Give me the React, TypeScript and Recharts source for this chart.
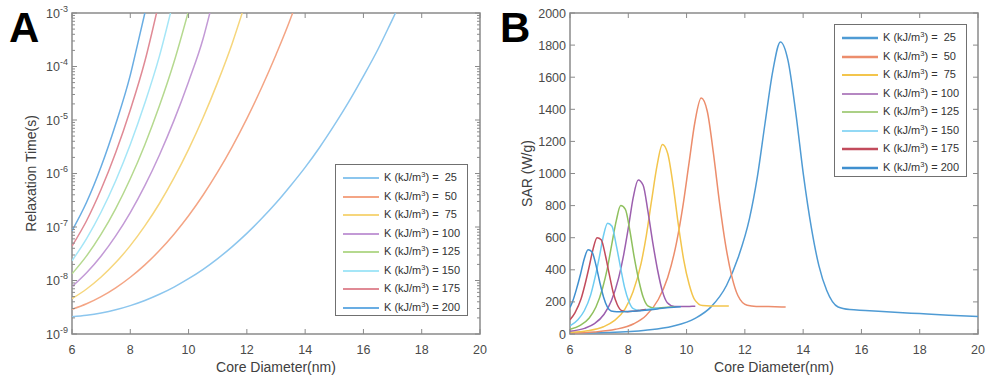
import { LineChart, Line, XAxis, YAxis, Legend, ReferenceArea } from 'recharts';

const kValues = [25, 50, 75, 100, 125, 150, 175, 200];
const diameterTicks = [6, 8, 10, 12, 14, 16, 18, 20];
const tauDecades = [1e-9, 1e-8, 1e-7, 1e-6, 1e-5, 1e-4, 1e-3];
const sarTicks = [0, 200, 400, 600, 800, 1000, 1200, 1400, 1600, 1800, 2000];

// [core diameter (nm), relaxation time (s)]
const tau25 = [[6, 2.1e-9], [6.5, 2.24e-9], [7, 2.47e-9], [7.5, 2.83e-9], [8, 3.39e-9], [8.5, 4.23e-9], [9, 5.52e-9], [9.5, 7.53e-9], [10, 1.08e-8], [10.5, 1.62e-8], [11, 2.57e-8], [11.5, 4.3e-8], [12, 7.6e-8], [12.5, 1.42e-7], [13, 2.8e-7], [13.5, 5.9e-7], [14, 1.3e-6], [14.5, 3.1e-6], [15, 8.0e-6], [15.5, 2.2e-5], [16, 6.6e-5], [16.5, 2.1e-4], [17, 7.7e-4], [17.1, 1e-3]];
const tau50 = [[6, 2.89e-9], [6.5, 3.67e-9], [7, 4.99e-9], [7.5, 7.29e-9], [8, 1.15e-8], [8.5, 1.96e-8], [9, 3.63e-8], [9.5, 7.34e-8], [10, 1.62e-7], [10.5, 3.96e-7], [11, 1.07e-6], [11.5, 3.19e-6], [12, 1.06e-5], [12.5, 3.96e-5], [13, 1.66e-4], [13.5, 7.86e-4], [13.57, 1e-3]];
const tau75 = [[6, 4.57e-9], [6.5, 6.94e-9], [7, 1.16e-8], [7.5, 2.16e-8], [8, 4.49e-8], [8.5, 1.05e-7], [9, 2.75e-7], [9.5, 8.25e-7], [10, 2.83e-6], [10.5, 1.11e-5], [11, 5.1e-5], [11.5, 2.73e-4], [11.84, 1e-3]];
const tau100 = [[6, 7.66e-9], [6.5, 1.39e-8], [7, 2.87e-8], [7.5, 6.81e-8], [8, 1.86e-7], [8.5, 5.92e-7], [9, 2.22e-6], [9.5, 9.83e-6], [10, 5.21e-5], [10.5, 3.33e-4], [10.73, 1e-3]];
const tau125 = [[6, 1.33e-8], [6.5, 2.88e-8], [7, 7.34e-8], [7.5, 2.21e-7], [8, 7.96e-7], [8.5, 3.46e-6], [9, 1.84e-5], [9.5, 1.21e-4], [9.98, 1e-3]];
const tau150 = [[6, 2.34e-8], [6.5, 6.09e-8], [7, 1.91e-7], [7.5, 7.34e-7], [8, 3.48e-6], [8.5, 2.07e-5], [9, 1.56e-4], [9.38, 1e-3]];
const tau175 = [[6, 4.4e-8], [6.5, 1.31e-7], [7, 5.06e-7], [7.5, 2.47e-6], [8, 1.54e-5], [8.5, 1.25e-4], [8.9, 1e-3]];
const tau200 = [[6, 8.5e-8], [6.5, 2.9e-7], [7, 1.35e-6], [7.5, 8.4e-6], [8, 6.9e-5], [8.25, 2.6e-4], [8.5, 1e-3]];

// [core diameter (nm), SAR (W/g)]
const sar25 = [[6, 5], [7.27, 9], [8.59, 23], [9.52, 48], [10.31, 99], [10.84, 169], [11.37, 302], [11.77, 476], [12.16, 720], [12.43, 980], [12.69, 1310], [12.96, 1640], [13.22, 1820], [13.48, 1705], [13.75, 1375], [14.01, 991], [14.28, 664], [14.54, 426], [14.81, 271], [15.2, 168], [15.6, 152], [16.13, 147], [17, 137], [18, 127], [19, 117], [20, 109]];
const sar50 = [[6, 6], [6.83, 13], [7.56, 29], [8.19, 64], [8.61, 115], [9.03, 215], [9.35, 350], [9.66, 574], [9.87, 792], [10.08, 1060], [10.29, 1324], [10.5, 1470], [10.71, 1388], [10.92, 1128], [11.13, 819], [11.34, 554], [11.55, 361], [11.76, 240], [12.08, 179], [12.39, 172], [12.81, 171], [13.4, 168]];
const sar75 = [[6, 10], [6.6, 20], [7.15, 45], [7.52, 83], [7.89, 157], [8.16, 262], [8.44, 440], [8.62, 615], [8.8, 832], [8.99, 1052], [9.17, 1180], [9.35, 1126], [9.54, 925], [9.72, 678], [9.9, 464], [10.09, 308], [10.27, 216], [10.55, 177], [10.82, 175], [11.19, 175], [11.45, 175]];
const sar100 = [[6, 17], [6.5, 35], [6.84, 64], [7.17, 123], [7.42, 207], [7.67, 350], [7.84, 492], [8.01, 670], [8.17, 851], [8.34, 960], [8.51, 927], [8.67, 769], [8.84, 570], [9.01, 394], [9.17, 267], [9.34, 195], [9.59, 171], [9.84, 171], [10.1, 172], [10.3, 173]];
const sar125 = [[6, 29], [6.35, 54], [6.66, 100], [6.89, 168], [7.12, 287], [7.28, 407], [7.43, 555], [7.59, 708], [7.74, 800], [7.9, 777], [8.05, 648], [8.2, 482], [8.36, 335], [8.51, 230], [8.67, 175], [8.9, 161], [9.13, 164], [9.35, 166], [9.6, 169]];
const sar150 = [[6, 50], [6.27, 89], [6.49, 145], [6.71, 244], [6.85, 345], [7.0, 473], [7.14, 606], [7.29, 690], [7.44, 671], [7.58, 560], [7.73, 418], [7.87, 292], [8.02, 203], [8.17, 158], [8.38, 148], [8.6, 152], [8.8, 157], [9.05, 162]];
const sar175 = [[6, 89], [6.17, 132], [6.38, 219], [6.51, 305], [6.65, 413], [6.79, 528], [6.93, 600], [7.07, 587], [7.21, 494], [7.35, 370], [7.48, 260], [7.62, 184], [7.76, 147], [7.97, 139], [8.18, 142], [8.4, 147], [8.6, 152]];
const sar200 = [[6, 165], [6.09, 203], [6.22, 278], [6.36, 372], [6.49, 469], [6.62, 525], [6.75, 513], [6.89, 430], [7.02, 324], [7.15, 231], [7.28, 169], [7.41, 143], [7.61, 139], [7.8, 139], [8.0, 140], [8.3, 143], [8.6, 148], [9.0, 156], [9.4, 165], [9.8, 170]];

const tauSeries = [tau25, tau50, tau75, tau100, tau125, tau150, tau175, tau200];
const sarSeries = [sar25, sar50, sar75, sar100, sar125, sar150, sar175, sar200];

const colorsA = ['#8cc6ee', '#f4a585', '#f6d67c', '#c39ad6', '#b5d98f', '#a5e6f7', '#e08a95', '#69ade3'];
const colorsB = ['#4f9bd4', '#ec8d6c', '#f3c54c', '#9c5fae', '#8fc05e', '#6fcdf2', '#c24b5c', '#3f8fcf'];

const FONT = '"Liberation Sans", Arial, sans-serif';
const FRAME = '#8a8a8a';
const TEXT = '#4a4a4a';
const PLOT_TOP = 13;
const PLOT_BOTTOM = 334;

const toRows = (pts: number[][]) => pts.map(([d, v]) => ({ d, v }));

const tauTicks = [
  ...tauDecades,
  ...tauDecades.slice(0, -1).flatMap((t) => [2, 3, 4, 5, 6, 7, 8, 9].map((m) => m * t)),
].sort((a, b) => a - b);

function XTick(props: any) {
  const { x, payload } = props;
  return (
    <g>
      <line x1={x} y1={PLOT_BOTTOM} x2={x} y2={PLOT_BOTTOM - 5} stroke={FRAME} />
      <line x1={x} y1={PLOT_TOP} x2={x} y2={PLOT_TOP + 5} stroke={FRAME} />
      <text x={x} y={PLOT_BOTTOM + 20} textAnchor="middle" fontFamily={FONT} fontSize={12.5} fill={TEXT}>
        {payload.value}
      </text>
    </g>
  );
}

function makeYTick(left: number, right: number, log: boolean) {
  return function YTick(props: any) {
    const { y, payload } = props;
    const v = payload.value;
    const exp = log ? Math.round(Math.log10(v)) : 0;
    const major = !log || Math.abs(Math.log10(v) - exp) < 1e-6;
    const len = major ? 5 : 3;
    return (
      <g>
        <line x1={left} y1={y} x2={left + len} y2={y} stroke={FRAME} />
        <line x1={right} y1={y} x2={right - len} y2={y} stroke={FRAME} />
        {major && (
          <text x={left - 4} y={y + 4.5} textAnchor="end" fontFamily={FONT} fontSize={12.5} fill={TEXT}>
            {log ? (
              <>
                10
                <tspan dy={-6} fontSize={9}>{exp}</tspan>
              </>
            ) : (
              v
            )}
          </text>
        )}
      </g>
    );
  };
}

function XTitle({ cx }: { cx: number }) {
  return (
    <text x={cx} y={372} textAnchor="middle" fontFamily={FONT} fontSize={14} fill="#404040">
      Core Diameter(nm)
    </text>
  );
}

function YTitle({ x, text }: { x: number; text: string }) {
  return (
    <text transform={`translate(${x},173.5) rotate(-90)`} textAnchor="middle" fontFamily={FONT} fontSize={14} fill="#404040">
      {text}
    </text>
  );
}

function makeLegend(colors: string[], height: number, lineWidths: number[]) {
  return function KLegend() {
    return (
      <div
        style={{
          width: 133,
          height,
          boxSizing: 'border-box',
          border: '1.5px solid #707070',
          background: '#fff',
          paddingTop: 4,
          paddingLeft: 7,
          fontFamily: FONT,
          fontSize: 11,
          color: '#333',
        }}
      >
        {kValues.map((k, i) => (
          <div key={k} style={{ display: 'flex', alignItems: 'center', height: 18.5 }}>
            <svg width={36} height={4} style={{ display: 'block' }}>
              <line x1={0} y1={2} x2={36} y2={2} stroke={colors[i]} strokeWidth={lineWidths[i]} />
            </svg>
            <span style={{ marginLeft: 5, whiteSpace: 'pre', lineHeight: '12px' }}>
              K (kJ/m<span style={{ fontSize: 7.5, position: 'relative', top: -4 }}>3</span>) = {k < 100 ? ' ' : ''}
              {k}
            </span>
          </div>
        ))}
      </div>
    );
  };
}

function RelaxationChart() {
  const left = 72;
  const right = 480;
  return (
    <LineChart width={494} height={381} margin={{ top: PLOT_TOP, right: 494 - right, bottom: 0, left: 0 }}>
      <XAxis
        dataKey="d"
        type="number"
        domain={[6, 20]}
        ticks={diameterTicks}
        interval={0}
        allowDataOverflow
        height={47}
        tickSize={0}
        tickMargin={0}
        axisLine={false}
        tickLine={false}
        tick={(p: any) => <XTick {...p} />}
        label={<XTitle cx={(left + right) / 2} />}
      />
      <YAxis
        type="number"
        scale="log"
        domain={[1e-9, 1e-3]}
        ticks={tauTicks}
        interval={0}
        allowDataOverflow
        width={left}
        tickSize={0}
        tickMargin={0}
        axisLine={false}
        tickLine={false}
        tick={makeYTick(left, right, true)}
        label={<YTitle x={34} text="Relaxation Time(s)" />}
      />
      <ReferenceArea x1={6} x2={20} y1={1e-9} y2={1e-3} fill="none" stroke={FRAME} strokeWidth={1.5} ifOverflow="visible" />
      {tauSeries.map((pts, i) => (
        <Line
          key={kValues[i]}
          data={toRows(pts)}
          dataKey="v"
          name={String(kValues[i])}
          type="monotone"
          stroke={colorsA[i]}
          strokeWidth={1.5}
          dot={false}
          isAnimationActive={false}
        />
      ))}
      <Legend
        layout="vertical"
        align="center"
        verticalAlign="middle"
        wrapperStyle={{ left: 335, top: 164, width: 133 }}
        content={makeLegend(colorsA, 152, [2, 2, 2, 2, 2, 2, 2, 2])}
      />
    </LineChart>
  );
}

function SarChart() {
  const left = 76;
  const right = 484;
  return (
    <LineChart width={494} height={381} margin={{ top: PLOT_TOP, right: 494 - right, bottom: 0, left: 0 }}>
      <XAxis
        dataKey="d"
        type="number"
        domain={[6, 20]}
        ticks={diameterTicks}
        interval={0}
        allowDataOverflow
        height={47}
        tickSize={0}
        tickMargin={0}
        axisLine={false}
        tickLine={false}
        tick={(p: any) => <XTick {...p} />}
        label={<XTitle cx={(left + right) / 2} />}
      />
      <YAxis
        type="number"
        domain={[0, 2000]}
        ticks={sarTicks}
        interval={0}
        allowDataOverflow
        width={left}
        tickSize={0}
        tickMargin={0}
        axisLine={false}
        tickLine={false}
        tick={makeYTick(left, right, false)}
        label={<YTitle x={35} text="SAR (W/g)" />}
      />
      <ReferenceArea x1={6} x2={20} y1={0} y2={2000} fill="none" stroke={FRAME} strokeWidth={1.5} ifOverflow="visible" />
      {sarSeries.map((pts, i) => (
        <Line
          key={kValues[i]}
          data={toRows(pts)}
          dataKey="v"
          name={String(kValues[i])}
          type="monotone"
          stroke={colorsB[i]}
          strokeWidth={1.5}
          dot={false}
          isAnimationActive={false}
        />
      ))}
      <Legend
        layout="vertical"
        align="center"
        verticalAlign="middle"
        wrapperStyle={{ left: 340, top: 24, width: 133 }}
        content={makeLegend(colorsB, 153, [2.5, 2.5, 2, 1.5, 1.5, 1.5, 2.5, 2.5])}
      />
    </LineChart>
  );
}

const panelLetter = {
  position: 'absolute' as const,
  top: 7,
  fontFamily: FONT,
  fontWeight: 700,
  fontSize: 42,
  lineHeight: '42px',
  color: '#000',
};

export default function App() {
  return (
    <div style={{ position: 'absolute', left: 0, top: 0, width: 988, height: 381, background: '#fff', overflow: 'hidden' }}>
      <div style={{ position: 'absolute', left: 0, top: 0 }}>
        <RelaxationChart />
      </div>
      <div style={{ position: 'absolute', left: 494, top: 0 }}>
        <SarChart />
      </div>
      <div style={{ ...panelLetter, left: 9 }}>A</div>
      <div style={{ ...panelLetter, left: 500 }}>B</div>
    </div>
  );
}
